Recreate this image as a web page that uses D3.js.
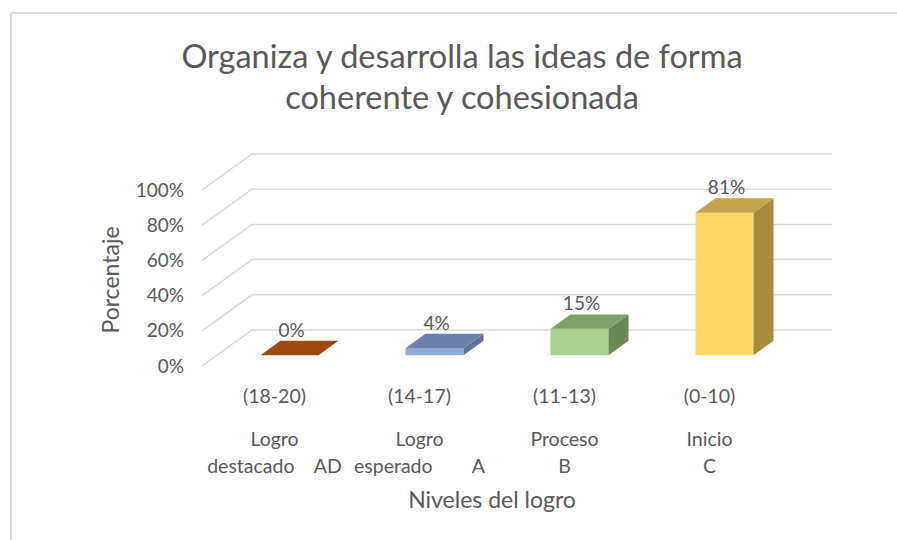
<!DOCTYPE html>
<html>
<head>
<meta charset="utf-8">
<script src="https://cdn.jsdelivr.net/npm/d3@7"></script>
<style>
  body { margin: 0; background: #fff; }
  svg { display: block; font-family: Lato, "Open Sans", sans-serif; }
  .tick-label, .cat-label, .axis-title, .value-label { fill: #595959; }
</style>
</head>
<body>
<svg width="897" height="540"></svg>
<script>
// ***********************************
// Data
var categories = ["AD", "A", "B", "C"];
var ranges = ["(18-20)", "(14-17)", "(11-13)", "(0-10)"];
var levelLine1 = ["Logro", "Logro", "Proceso", "Inicio"];
var levelLine2 = ["destacado    AD", "esperado        A", "B", "C"];
var values = [0, 0.04, 0.15, 0.81];
var valueLabels = ["0%", "4%", "15%", "81%"];
var yTicks = [0, 0.2, 0.4, 0.6, 0.8, 1];

// Face colours per bar: front, top, side
var frontColors = ["#b8561a", "#8eaadc", "#a9d08e", "#fdd865"];
var topColors = ["#9c4a12", "#6b80aa", "#80a06a", "#c4a44a"];
var sideColors = ["#7d3a0e", "#5d729c", "#6a8755", "#a88b3e"];

// ***********************************
// Layout
var svg = d3.select("svg"),
  width = +svg.attr("width"),
  height = +svg.attr("height");

// chart frame (only top and left edges are visible in the crop)
svg.append("line")
  .attr("x1", 11).attr("y1", 13).attr("x2", width).attr("y2", 13)
  .attr("stroke", "#d9d9d9").attr("stroke-width", 2);
svg.append("line")
  .attr("x1", 11).attr("y1", 13).attr("x2", 11).attr("y2", height)
  .attr("stroke", "#d9d9d9").attr("stroke-width", 2);

// the front floor edge and the depth of the 3D box
var floorY = 366;
var depthX = 50, depthY = -36;

var x = d3.scaleBand()
  .domain(categories)
  .range([202, 782]);

var y = d3.scaleLinear()
  .domain([0, 1])
  .range([0, 176]);

// bars sit between these depth fractions, width is 40% of a band
var barFront = 0.3, barBack = 0.7, barWidth = x.bandwidth() * 0.4;

// ***********************************
// Gridlines: diagonal on the left wall then flat across the back wall
var grid = svg.append("g").attr("class", "grid");
grid.selectAll("path")
  .data(yTicks)
  .enter().append("path")
  .attr("fill", "none")
  .attr("stroke", "#d9d9d9")
  .attr("stroke-width", 1.5)
  .attr("d", function(d) {
    var yf = floorY - y(d);
    return "M" + x.range()[0] + "," + yf +
      "L" + (x.range()[0] + depthX) + "," + (yf + depthY) +
      "L" + (x.range()[1] + depthX) + "," + (yf + depthY);
  });

// y tick labels on the front edge
svg.append("g")
  .selectAll("text")
  .data(yTicks)
  .enter().append("text")
  .attr("class", "tick-label")
  .attr("x", 184)
  .attr("y", function(d) { return floorY - y(d); })
  .attr("dy", "0.35em")
  .attr("text-anchor", "end")
  .style("font-size", "19px")
  .text(function(d) { return Math.round(d * 100) + "%"; });

// ***********************************
// Bars
var bars = svg.append("g").attr("class", "bars")
  .selectAll("g")
  .data(values)
  .enter().append("g");

function corner(i, depth, v) {
  var bx = x(categories[i]) + (x.bandwidth() - barWidth) / 2 + depthX * depth;
  var by = floorY + depthY * depth - y(v);
  return [bx, by];
}

// front face
bars.append("rect")
  .attr("x", function(d, i) { return corner(i, barFront, d)[0]; })
  .attr("y", function(d, i) { return corner(i, barFront, d)[1]; })
  .attr("width", barWidth)
  .attr("height", function(d) { return y(d); })
  .attr("fill", function(d, i) { return frontColors[i]; });

// side face
bars.append("path")
  .attr("fill", function(d, i) { return sideColors[i]; })
  .attr("d", function(d, i) {
    var f0 = corner(i, barFront, 0), f1 = corner(i, barFront, d);
    var b0 = corner(i, barBack, 0), b1 = corner(i, barBack, d);
    return "M" + (f0[0] + barWidth) + "," + f0[1] +
      "L" + (f1[0] + barWidth) + "," + f1[1] +
      "L" + (b1[0] + barWidth) + "," + b1[1] +
      "L" + (b0[0] + barWidth) + "," + b0[1] + "Z";
  });

// top face
bars.append("path")
  .attr("fill", function(d, i) { return topColors[i]; })
  .attr("d", function(d, i) {
    var f = corner(i, barFront, d), b = corner(i, barBack, d);
    return "M" + f[0] + "," + f[1] +
      "L" + (f[0] + barWidth) + "," + f[1] +
      "L" + (b[0] + barWidth) + "," + b[1] +
      "L" + b[0] + "," + b[1] + "Z";
  });

// value labels above each bar
bars.append("text")
  .attr("class", "value-label")
  .attr("x", function(d, i) { return corner(i, barFront, d)[0] + barWidth / 2 + 2; })
  .attr("y", function(d, i) { return corner(i, barBack, d)[1] - 4; })
  .attr("text-anchor", "middle")
  .style("font-size", "19px")
  .text(function(d, i) { return valueLabels[i]; });

// ***********************************
// Category labels
var cats = svg.append("g")
  .selectAll("g")
  .data(categories)
  .enter().append("g")
  .attr("transform", function(d) { return "translate(" + (x(d) + x.bandwidth() / 2) + ",0)"; });

cats.append("text")
  .attr("class", "cat-label")
  .attr("y", 403)
  .attr("text-anchor", "middle")
  .style("font-size", "19.5px")
  .text(function(d, i) { return ranges[i]; });

cats.append("text")
  .attr("class", "cat-label")
  .attr("y", 446)
  .attr("text-anchor", "middle")
  .style("font-size", "19.5px")
  .text(function(d, i) { return levelLine1[i]; });

cats.append("text")
  .attr("class", "cat-label")
  .attr("y", 473)
  .attr("text-anchor", "middle")
  .style("font-size", "19.5px")
  .style("white-space", "pre")
  .text(function(d, i) { return levelLine2[i]; });

// ***********************************
// Titles
svg.append("text")
  .attr("class", "axis-title")
  .attr("x", 492).attr("y", 508)
  .attr("text-anchor", "middle")
  .style("font-size", "23px")
  .text("Niveles del logro");

svg.append("text")
  .attr("class", "axis-title")
  .attr("transform", "translate(119,280) rotate(-90)")
  .attr("text-anchor", "middle")
  .style("font-size", "23px")
  .text("Porcentaje");

var title = svg.append("text")
  .attr("class", "axis-title")
  .attr("text-anchor", "middle")
  .style("font-size", "32.5px");
title.append("tspan").attr("x", 462).attr("y", 68).text("Organiza y desarrolla las ideas de forma");
title.append("tspan").attr("x", 462).attr("y", 109).text("coherente y cohesionada");
</script>
</body>
</html>
